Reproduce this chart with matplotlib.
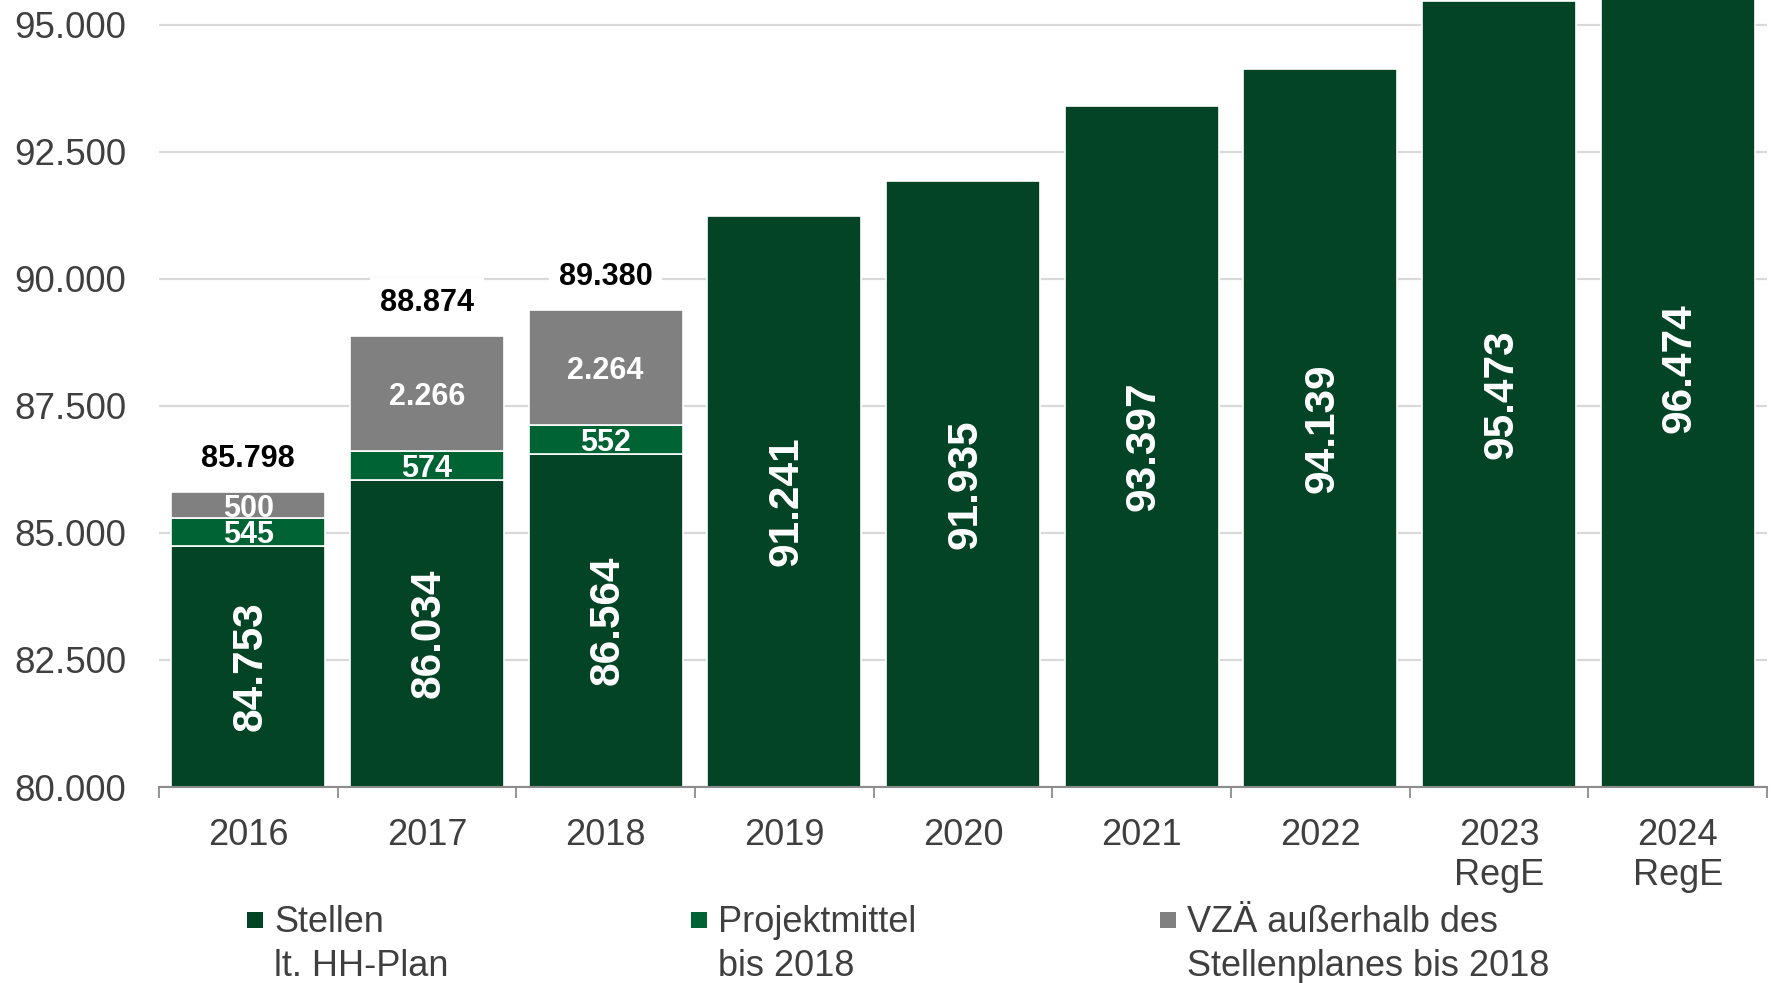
import matplotlib
matplotlib.use("Agg")
import matplotlib.pyplot as plt
from matplotlib.patches import Rectangle
import numpy as np

plt.rcParams["font.family"] = ["Liberation Sans", "DejaVu Sans"]

# data
years = ["2016", "2017", "2018", "2019", "2020", "2021", "2022", "2023\nRegE", "2024\nRegE"]
stellen = [84753, 86034, 86564, 91241, 91935, 93397, 94139, 95473, 96474]
projektmittel = [545, 574, 552, 0, 0, 0, 0, 0, 0]
vza_extern = [500, 2266, 2264, 0, 0, 0, 0, 0, 0]
legend_labels = ["Stellen\nlt. HH-Plan", "Projektmittel\nbis 2018", "VZÄ außerhalb des\nStellenplanes bis 2018"]
y_ticks = [80000, 82500, 85000, 87500, 90000, 92500, 95000]

DARK = "#034426"
GREEN = "#006334"
GREY = "#808080"
TXT = "#3f3f3f"
Y_MIN, Y_MAX = 80000, 95490


def fmt(v):
    """German style thousands separator."""
    return f"{v:,.0f}".replace(",", ".")


W, H = 1777, 983
fig = plt.figure(figsize=(W / 100, H / 100), dpi=100)
ax = fig.add_axes([159 / W, 1 - 787 / H, 1608 / W, 787 / H])

x = np.arange(len(years))
stellen = np.array(stellen)
projektmittel = np.array(projektmittel)
vza_extern = np.array(vza_extern)
totals = stellen + projektmittel + vza_extern

bw = 0.862
ax.bar(x, stellen, width=bw, color=DARK, edgecolor="white", linewidth=1.2, zorder=2)
has_extra = projektmittel > 0
ax.bar(x[has_extra], projektmittel[has_extra], bottom=stellen[has_extra], width=bw,
       color=GREEN, edgecolor="white", linewidth=1.2, zorder=2)
ax.bar(x[has_extra], vza_extern[has_extra], bottom=(stellen + projektmittel)[has_extra],
       width=bw, color=GREY, edgecolor="white", linewidth=1.2, zorder=2)

# labels inside the bars
small = dict(textcoords="offset points", xytext=(0, -2.5), ha="center", va="center",
             color="white", fontsize=22, fontweight="bold", zorder=3)
for i in x:
    ax.annotate(fmt(stellen[i]), (i, (Y_MIN + stellen[i]) / 2), xytext=(1.5, 0),
                textcoords="offset points", rotation=90, ha="center", va="center",
                color="white", fontsize=30.5, fontweight="bold", zorder=3)
    if has_extra[i]:
        ax.annotate(fmt(projektmittel[i]), (i, stellen[i] + projektmittel[i] / 2), **small)
        ax.annotate(fmt(vza_extern[i]), (i, stellen[i] + projektmittel[i] + vza_extern[i] / 2),
                    **small)
        ax.annotate(fmt(totals[i]), (i, totals[i]), xytext=(0, 24), textcoords="offset points",
                    ha="center", va="center", color="black", fontsize=22, fontweight="bold",
                    zorder=3, bbox=dict(facecolor="white", edgecolor="none", pad=7))

ax.set_xlim(-0.5, len(years) - 0.5)
ax.set_ylim(Y_MIN, Y_MAX)

ax.set_yticks(y_ticks)
ax.set_yticklabels([fmt(v) for v in y_ticks])
ax.yaxis.grid(True, color="#d9d9d9", linewidth=1.6, zorder=0)
ax.set_axisbelow(True)

ax.set_xticks(x)
ax.set_xticklabels(years, linespacing=1.2)
ax.set_xticks(np.arange(len(years) + 1) - 0.5, minor=True)
ax.tick_params(axis="x", which="major", length=0, pad=22, labelsize=26, labelcolor=TXT)
ax.tick_params(axis="x", which="minor", length=8, width=1.3, color="#8c8c8c")
ax.tick_params(axis="y", length=0, pad=23.5, labelsize=26.5, labelcolor=TXT)

for s in ["top", "right", "left"]:
    ax.spines[s].set_visible(False)
ax.spines["bottom"].set_color("#8c8c8c")
ax.spines["bottom"].set_linewidth(1.5)

# legend drawn by hand, one column per series
leg_x = [247, 691, 1160]
for lx, lab, col in zip(leg_x, legend_labels, [DARK, GREEN, GREY]):
    fig.add_artist(Rectangle((lx / W, 1 - 928 / H), 16 / W, 16 / H, transform=fig.transFigure,
                             facecolor=col, edgecolor="none"))
    for k, line in enumerate(lab.split("\n")):
        fig.text((lx + 27) / W, 1 - (932 + 44 * k) / H, line, ha="left", va="baseline",
                 fontsize=26, color=TXT)

fig.savefig("out.png", dpi=100)
